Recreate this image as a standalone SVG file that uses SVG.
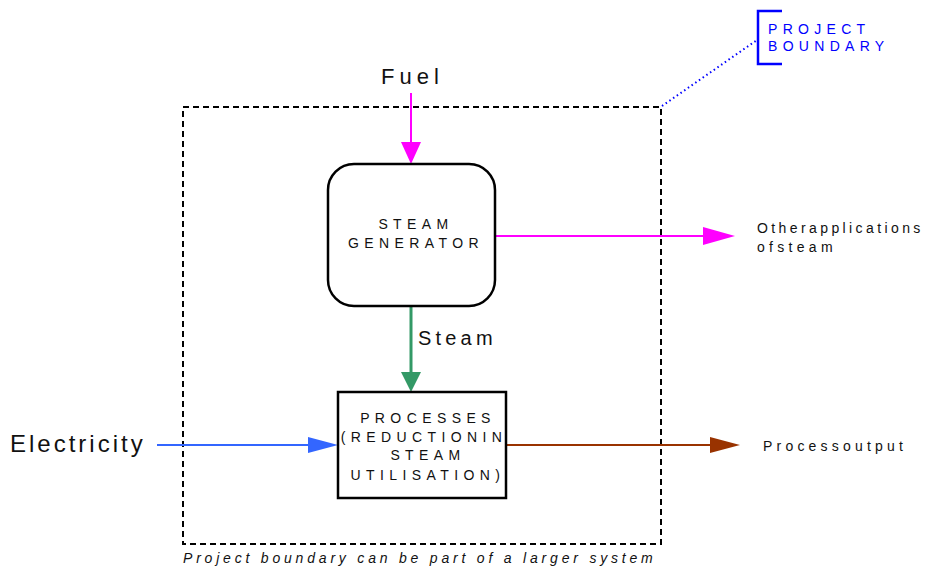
<svg xmlns="http://www.w3.org/2000/svg" width="926" height="568" viewBox="0 0 926 568">
<style>
.t{font-family:"Liberation Sans",Arial,sans-serif;fill:#111;}
.s{font-size:14px;letter-spacing:5.4px;}
.box{fill:#fff;stroke:#000;stroke-width:2.5;}
</style>
<rect width="926" height="568" fill="#fff"/>
<g id="boundary">
<rect x="183" y="107" width="478" height="437" fill="none" stroke="#000" stroke-width="2" stroke-dasharray="6,4"/>
<text class="t" x="183" y="563" font-size="14" font-style="italic" letter-spacing="3.8">Project boundary can be part of a larger system</text>
</g>
<g id="label-project-boundary">
<line x1="662" y1="106" x2="757" y2="40" stroke="#0000ff" stroke-width="2" stroke-dasharray="1.5,3"/>
<polyline points="782,11 758,11 758,64 782,64" fill="none" stroke="#0000ff" stroke-width="2.5"/>
<text x="768" y="34" font-family="Liberation Sans,Arial,sans-serif" font-size="14" letter-spacing="5.3" fill="#0000ff">PROJECT</text>
<text x="768" y="51" font-family="Liberation Sans,Arial,sans-serif" font-size="14" letter-spacing="5.3" fill="#0000ff">BOUNDARY</text>
</g>
<g id="connectors">
<line x1="411" y1="93" x2="411" y2="145" stroke="#ff00ff" stroke-width="2"/>
<polygon points="401,142 421,142 411,164" fill="#ff00ff"/>
<line x1="411" y1="306" x2="411" y2="375" stroke="#339966" stroke-width="3"/>
<polygon points="401,372 421,372 411,392" fill="#339966"/>
<line x1="495" y1="236" x2="706" y2="236" stroke="#ff00ff" stroke-width="2"/>
<polygon points="703,227 703,245 735,236" fill="#ff00ff"/>
<line x1="157" y1="445" x2="310" y2="445" stroke="#3366ff" stroke-width="2"/>
<polygon points="308,437 308,453 338,445" fill="#3366ff"/>
<line x1="506" y1="445" x2="712" y2="445" stroke="#993300" stroke-width="2"/>
<polygon points="710,437 710,453 740,445" fill="#993300"/>
<text class="t" x="418" y="345" font-size="20" letter-spacing="4.2">Steam</text>
</g>
<g id="steam-generator">
<rect class="box" x="328" y="164" width="167" height="142" rx="26"/>
<text class="t s" x="416" y="229" text-anchor="middle">STEAM</text>
<text class="t s" x="416" y="248" text-anchor="middle">GENERATOR</text>
</g>
<g id="processes">
<rect class="box" x="338" y="392" width="168" height="106"/>
<text class="t s" x="428" y="423" text-anchor="middle">PROCESSES</text>
<text class="t s" x="424" y="442" text-anchor="middle" letter-spacing="4.4">(REDUCTIONIN</text>
<text class="t s" x="428" y="460" text-anchor="middle">STEAM</text>
<text class="t s" x="428" y="480" text-anchor="middle" letter-spacing="5">UTILISATION)</text>
</g>
<g id="fuel">
<text class="t" x="381" y="84" font-size="22" letter-spacing="5">Fuel</text>
</g>
<g id="electricity">
<text class="t" x="10" y="452" font-size="24" letter-spacing="3">Electricity</text>
</g>
<g id="other-applications">
<text class="t" x="757" y="233" font-size="14" letter-spacing="3.4">Otherapplications</text>
<text class="t" x="757" y="252" font-size="14" letter-spacing="4.3">ofsteam</text>
</g>
<g id="process-output">
<text class="t" x="763" y="451" font-size="14" letter-spacing="4.2">Processoutput</text>
</g>
</svg>
